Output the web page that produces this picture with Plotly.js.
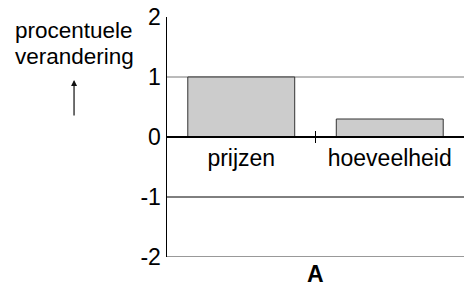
<!DOCTYPE html>
<html><head><meta charset="utf-8">
<script src="https://cdn.plot.ly/plotly-3.0.1.min.js"></script>
<style>html,body{margin:0;padding:0;background:#fff}</style>
</head><body><div id="chart" style="width:464px;height:288px"></div>
<script>
const categories = ['prijzen', 'hoeveelheid'];
const values = [1, 0.3];
const yTickVals = [-2, -1, 0, 1, 2];
const yTickLabels = ['-2', '-1', '0', '1', '2'];
const gridValues = [1, -1, -2];
const gridColors = ['#777777', '#000000', '#777777'];
const yLabelLines = ['procentuele', 'verandering'];
const panelLabel = 'A';

const FONT = 'Liberation Sans, Arial, sans-serif';

const shapes = gridValues.map((v, i) => ({
  type: 'line', xref: 'paper', yref: 'y', x0: 0, x1: 1, y0: v, y1: v,
  line: {color: gridColors[i], width: i === 2 ? 1.5 : 1}, layer: 'below'
}));
// small tick at the category boundary crossing the zero line
shapes.push({type: 'line', xref: 'x', yref: 'y', x0: 0.5, x1: 0.5, y0: -0.1, y1: 0.1,
  line: {color: '#000', width: 1}});

const annotations = [
  {xref: 'paper', yref: 'paper', x: -0.313, xanchor: 'center', y: 1, yanchor: 'middle', yshift: -13,
   text: yLabelLines[0], showarrow: false, font: {family: FONT, size: 22.5, color: '#000'}},
  {xref: 'paper', yref: 'paper', x: -0.313, xanchor: 'center', y: 1, yanchor: 'middle', yshift: -39,
   text: yLabelLines[1], showarrow: false, font: {family: FONT, size: 22.5, color: '#000'}},
  {xref: 'paper', yref: 'y', x: -0.313, y: 0.95, text: '', showarrow: true,
   ax: 0, ay: 37, arrowhead: 2, arrowsize: 1, arrowwidth: 1.2, arrowcolor: '#111'},
  {xref: 'x', yref: 'paper', x: 0.5, y: 0, yanchor: 'top', yshift: -2,
   text: '<b>' + panelLabel + '</b>', showarrow: false, font: {family: FONT, size: 23, color: '#000'}}
];

const trace = {
  type: 'bar', x: categories, y: values,
  marker: {color: '#cccccc', line: {color: '#333333', width: 1}},
  hoverinfo: 'none'
};

const layout = {
  width: 464, height: 288,
  margin: {l: 167, r: 0, t: 17, b: 31, pad: 0},
  paper_bgcolor: '#fff', plot_bgcolor: '#fff',
  showlegend: false, bargap: 0.28,
  font: {family: FONT, size: 23, color: '#000'},
  xaxis: {type: 'category', range: [-0.5, 1.5], anchor: 'free', position: 0.5,
    showline: true, linecolor: '#000', linewidth: 2, ticks: '', showgrid: false,
    zeroline: false, tickfont: {family: FONT, size: 23, color: '#000'}, fixedrange: true},
  yaxis: {range: [-2, 2], tickvals: yTickVals, ticktext: yTickLabels,
    showline: true, linecolor: '#000', linewidth: 1.5, ticks: '', showgrid: false,
    zeroline: false, tickfont: {family: FONT, size: 23, color: '#000'}, fixedrange: true},
  shapes: shapes, annotations: annotations
};

Plotly.newPlot('chart', [trace], layout, {displayModeBar: false, staticPlot: true});
</script></body></html>
